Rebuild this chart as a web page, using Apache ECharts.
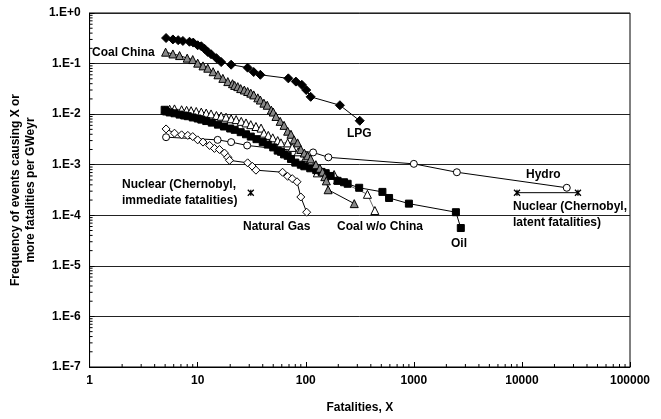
<!DOCTYPE html>
<html><head><meta charset="utf-8">
<script src="https://cdn.jsdelivr.net/npm/echarts@6/dist/echarts.min.js"></script>
<style>html,body{margin:0;padding:0;background:#fff}#c{width:661px;height:419px}</style>
</head><body><div id="c"></div>
<script>
// ---- data (fatalities X, frequency per GWeyr) ----
const lpg = [[5.1,0.32],[5.9,0.30],[6.6,0.29],[7.3,0.28],[8.4,0.27],[9.1,0.26],[10,0.23],[10.8,0.22],[11.6,0.195],[12.4,0.17],[13.3,0.153],[14.9,0.128],[16.5,0.107],[20.4,0.095],[29,0.083],[33,0.068],[38,0.060],[69,0.051],[81,0.044],[92,0.038],[101,0.030],[111,0.022],[207,0.015],[316,0.0074]];
const coalChina = [[5.05,0.168],[5.9,0.155],[6.8,0.144],[8.0,0.128],[9.0,0.12],[10,0.102],[11.2,0.09],[12.4,0.081],[13.9,0.069],[15.4,0.06],[17.1,0.051],[19,0.044],[21,0.04],[22,0.037],[23.5,0.035],[25,0.032],[27,0.030],[29,0.028],[31,0.026],[33,0.024],[36,0.021],[38,0.019],[41,0.0165],[44,0.015],[48,0.012],[50,0.011],[53,0.0090],[58,0.0072],[63,0.0060],[68,0.0046],[73,0.0040],[78,0.0031],[84,0.0027],[90,0.0020],[97,0.0017],[104,0.0015],[111,0.0013],[124,0.0010],[135,0.00085],[143,0.00072],[150,0.00058],[155,0.00048],[161,0.00032],[281,0.00017]];
const coalWoChina = [[4.95,0.0118],[5.5,0.0125],[6.1,0.0127],[7.1,0.0122],[7.9,0.0119],[8.7,0.0117],[9.7,0.0113],[10.8,0.011],[12,0.0105],[13.3,0.0101],[14.9,0.0094],[16.5,0.0091],[18.3,0.0087],[20.4,0.0081],[22.7,0.0078],[25.3,0.0072],[28,0.0067],[31,0.0062],[34.6,0.0057],[38.6,0.0053],[41,0.0042],[45,0.0038],[49.5,0.0034],[55,0.0030],[59,0.0027],[68,0.0027],[75,0.0022],[85,0.0018],[100,0.0014],[111,0.0011],[128,0.00069],[183,0.00064],[197,0.0005],[372,0.00026],[436,0.000124]];
const oil = [[4.95,0.0122],[5.1,0.0113],[5.5,0.0108],[6.1,0.0104],[6.8,0.0098],[7.5,0.0094],[8.1,0.0091],[9,0.0086],[10,0.0082],[10.8,0.0078],[12,0.0073],[13.5,0.0068],[15.4,0.0062],[17.5,0.0057],[20,0.0052],[22,0.0049],[25,0.0044],[28,0.0040],[31,0.0036],[35,0.0032],[40,0.0028],[44.5,0.0025],[50,0.0022],[55,0.0019],[59,0.0018],[63,0.0016],[68,0.0015],[73,0.0013],[80,0.0011],[90,0.0010],[97,0.00093],[110,0.00085],[125,0.00078],[140,0.00072],[153,0.00068],[170,0.0006],[197,0.00048],[226,0.00045],[244,0.00042],[312,0.00035],[512,0.00029],[590,0.00022],[900,0.00017],[2450,0.000115],[2720,0.000056]];
const naturalGas = [[5.1,0.0051],[6.1,0.0042],[7.1,0.0039],[8.1,0.0038],[9,0.0036],[10,0.0031],[11.2,0.0028],[12.9,0.0024],[14.3,0.0021],[15.9,0.0020],[17.7,0.0017],[19,0.0014],[19.7,0.00122],[29,0.00109],[32,0.00093],[34.6,0.00078],[61,0.00071],[68,0.00059],[75,0.00053],[83,0.00046],[90,0.00023],[102,0.000115]];
const hydro = [[5.1,0.0035],[15.3,0.0031],[20.4,0.0028],[28.7,0.0024],[117,0.00175],[162,0.0014],[1000,0.00104],[2500,0.00071],[26000,0.00035]];
const nuclearImmediate = [[31,0.00028]];
const nuclearLatent = [[9000,0.00028],[33000,0.00028]];
const xTickLabels = ['1','10','100','1000','10000','100000'];
const yTickLabels = ['1.E-7','1.E-6','1.E-5','1.E-4','1.E-3','1.E-2','1.E-1','1.E+0'];

// minor tick values (axis decoration, 2..9 within each decade)
const xMinor = [], yMinor = [];
for (let e = 0; e < 5; e++) for (let k = 2; k <= 9; k++) xMinor.push(k * Math.pow(10, e));
for (let e = -7; e < 0; e++) for (let k = 2; k <= 9; k++) yMinor.push(k * Math.pow(10, e));

const FONT = '"Liberation Sans", Arial, sans-serif';
const chart = echarts.init(document.getElementById('c'), null, {renderer: 'canvas'});
const star = 'path://M0,0L10,10M10,0L0,10M5,0L5,10';

function lineSeries(name, data, symbol, size, fill, lineColor) {
  return {
    name, type: 'line', data, symbol, symbolSize: size, showSymbol: true,
    lineStyle: {color: lineColor, width: 1},
    itemStyle: {color: fill, borderColor: '#000', borderWidth: 1},
    emphasis: {disabled: true}, animation: false, z: 3
  };
}

const txt = (x, y, text, align) => ({
  type: 'text', left: x, top: y,
  style: {text, font: 'bold 12px ' + FONT, fill: '#000', textAlign: align || 'left', lineHeight: 16}
});

chart.setOption({
  animation: false,
  backgroundColor: '#fff',
  grid: {left: 88, right: 31, top: 13, bottom: 51, show: true, borderColor: '#000', borderWidth: 1, backgroundColor: '#fff'},
  xAxis: {
    type: 'log', logBase: 10, min: 1, max: 100000,
    name: 'Fatalities, X', nameLocation: 'middle', nameGap: 35,
    nameTextStyle: {fontFamily: FONT, fontWeight: 'bold', fontSize: 12, color: '#000'},
    axisLine: {lineStyle: {color: '#000', width: 1}},
    axisTick: {inside: true, length: 5, lineStyle: {color: '#000'}},
    axisLabel: {margin: 8, fontFamily: FONT, fontWeight: 'bold', fontSize: 12, color: '#000',
      formatter: v => xTickLabels[Math.round(Math.log10(v))]},
    splitLine: {show: false}
  },
  yAxis: {
    type: 'log', logBase: 10, min: 1e-7, max: 1,
    name: 'Frequency of events causing X or\nmore fatalities per GWeyr', nameLocation: 'middle', nameGap: 42, nameRotate: 90,
    nameTextStyle: {fontFamily: FONT, fontWeight: 'bold', fontSize: 12, color: '#000', lineHeight: 15},
    axisLine: {lineStyle: {color: '#000', width: 1}},
    axisTick: {inside: true, length: 5, lineStyle: {color: '#000'}},
    axisLabel: {margin: 9, fontFamily: FONT, fontWeight: 'bold', fontSize: 12, color: '#000',
      formatter: v => yTickLabels[Math.round(Math.log10(v)) + 7]},
    splitLine: {show: true, lineStyle: {color: '#222', width: 1}}
  },
  graphic: [
    txt(92, 45, 'Coal China'),
    txt(347, 126, 'LPG'),
    txt(526, 167, 'Hydro'),
    txt(243, 219, 'Natural Gas'),
    txt(337, 219, 'Coal w/o China'),
    txt(451, 236, 'Oil'),
    txt(122, 177, 'Nuclear (Chernobyl,\nimmediate fatalities)'),
    txt(513, 199, 'Nuclear (Chernobyl,\nlatent fatalities)')
  ],
  series: [
    {
      type: 'custom', silent: true, clip: false, z: 4,
      data: [[1, 1e-7]],
      renderItem: (params, api) => {
        const children = [];
        xMinor.forEach(v => {
          const p = api.coord([v, 1e-7]);
          children.push({type: 'line', shape: {x1: p[0], y1: p[1], x2: p[0], y2: p[1] - 3}, style: {stroke: '#000', lineWidth: 1}});
        });
        yMinor.forEach(v => {
          const p = api.coord([1, v]);
          children.push({type: 'line', shape: {x1: p[0], y1: p[1], x2: p[0] + 3, y2: p[1]}, style: {stroke: '#000', lineWidth: 1}});
        });
        return {type: 'group', children};
      }
    },
    lineSeries('Hydro', hydro, 'circle', 7, '#fff', '#000'),
    lineSeries('Natural Gas', naturalGas, 'diamond', 8, '#fff', '#000'),
    lineSeries('Coal w/o China', coalWoChina, 'triangle', 8, '#fff', '#666'),
    lineSeries('Oil', oil, 'rect', 7, '#000', '#000'),
    lineSeries('Coal China', coalChina, 'triangle', 8, '#888', '#000'),
    lineSeries('LPG', lpg, 'diamond', 9, '#000', '#000'),
    {
      name: 'Nuclear immediate', type: 'line', data: nuclearImmediate, symbol: star, symbolSize: 6,
      lineStyle: {color: '#000', width: 1}, itemStyle: {color: 'none', borderColor: '#000', borderWidth: 1.3}, z: 3
    },
    {
      name: 'Nuclear latent', type: 'line', data: nuclearLatent, symbol: star, symbolSize: 6,
      lineStyle: {color: '#000', width: 1}, itemStyle: {color: 'none', borderColor: '#000', borderWidth: 1.3}, z: 3
    }
  ]
});
</script>
</body></html>
